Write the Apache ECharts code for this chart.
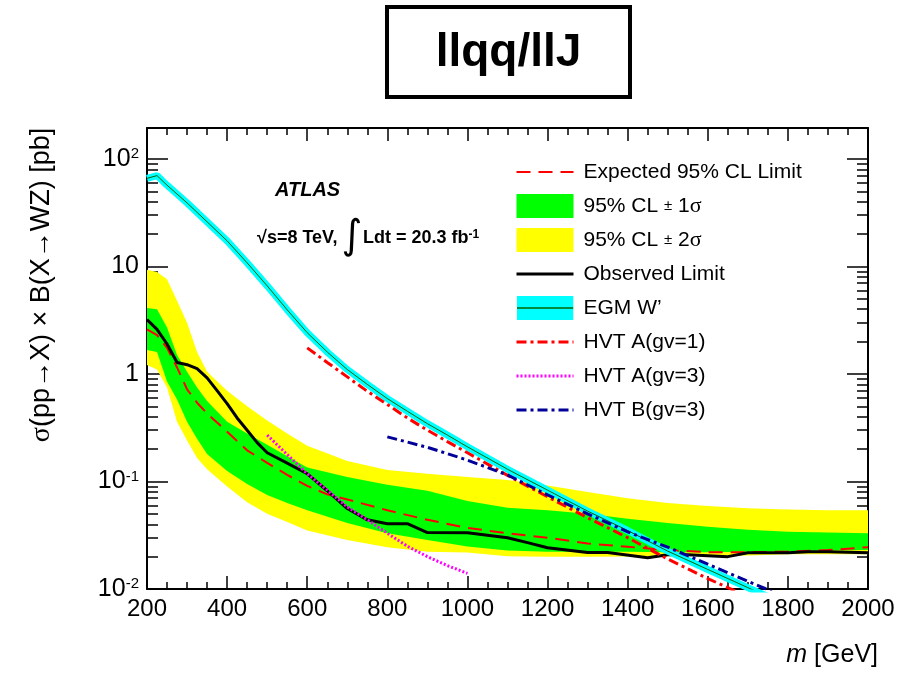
<!DOCTYPE html>
<html>
<head>
<meta charset="utf-8">
<script src="https://cdn.jsdelivr.net/npm/echarts@6/dist/echarts.min.js"></script>
<style>
  html, body { margin: 0; padding: 0; background: #fff; }
  #chart { width: 901px; height: 674px; }
</style>
</head>
<body>
<div id="chart"></div>
<script>
// ---- fonts ----
var FONT = '"Liberation Sans", Arial, Helvetica, sans-serif';

// ---- data ----
// bands: common mass grid
var bandMass  = [200, 225, 250, 275, 300, 325, 350, 400, 450, 500, 550, 600, 700, 800, 900, 1000, 1100, 1200, 1300, 1400, 1500, 1600, 1700, 1800, 1900, 2000];
var yellowUp  = [9.3, 8.9, 7.6, 4.8, 3.0, 1.6, 1.05, 0.70, 0.50, 0.37, 0.28, 0.215, 0.155, 0.128, 0.118, 0.110, 0.103, 0.092, 0.080, 0.070, 0.063, 0.059, 0.0565, 0.055, 0.054, 0.054];
var yellowLow = [1.21, 1.1, 0.75, 0.36, 0.24, 0.165, 0.13, 0.090, 0.064, 0.050, 0.042, 0.035, 0.0285, 0.0245, 0.0222, 0.0218, 0.0202, 0.0200, 0.0200, 0.0201, 0.0202, 0.0205, 0.0205, 0.0210, 0.0210, 0.0210];
var greenUp   = [4.1, 4.0, 2.7, 1.5, 1.05, 0.75, 0.56, 0.36, 0.28, 0.22, 0.172, 0.135, 0.110, 0.093, 0.082, 0.066, 0.057, 0.054, 0.050, 0.045, 0.041, 0.038, 0.0355, 0.034, 0.0335, 0.033];
var greenLow  = [1.67, 1.6, 0.85, 0.58, 0.36, 0.25, 0.18, 0.125, 0.095, 0.075, 0.063, 0.054, 0.041, 0.033, 0.0285, 0.0248, 0.0228, 0.0222, 0.0222, 0.0222, 0.0220, 0.0220, 0.0222, 0.0225, 0.0228, 0.0230];

var expMass   = [200, 225, 250, 275, 300, 325, 350, 400, 450, 500, 550, 600, 650, 700, 800, 900, 1000, 1100, 1200, 1300, 1400, 1500, 1600, 1700, 1800, 1900, 2000];
var expLimit  = [2.6, 2.3, 1.75, 1.15, 0.72, 0.54, 0.43, 0.29, 0.195, 0.149, 0.115, 0.091, 0.076, 0.068, 0.054, 0.044, 0.037, 0.033, 0.030, 0.0265, 0.0247, 0.023, 0.022, 0.022, 0.0223, 0.023, 0.0245];

var obsMass   = [200, 225, 250, 275, 300, 325, 350, 375, 400, 425, 450, 475, 500, 550, 600, 650, 700, 750, 800, 850, 900, 1000, 1100, 1150, 1200, 1300, 1350, 1450, 1500, 1550, 1650, 1700, 1800, 1850, 1900, 2000];
var obsLimit  = [3.2, 2.6, 1.9, 1.28, 1.22, 1.12, 0.92, 0.70, 0.53, 0.39, 0.30, 0.23, 0.185, 0.148, 0.118, 0.082, 0.056, 0.044, 0.0405, 0.0405, 0.0335, 0.0333, 0.030, 0.027, 0.0242, 0.0218, 0.0218, 0.0195, 0.0208, 0.0208, 0.0200, 0.0217, 0.0217, 0.0222, 0.0222, 0.0217];

var egmMass   = [200, 225, 250, 300, 350, 400, 450, 500, 550, 600, 650, 700, 750, 800, 850, 900, 950, 1000, 1100, 1200, 1300, 1400, 1500, 1600, 1700, 1750];
var egmXsec   = [66, 70, 57, 39, 26, 17.3, 10.8, 6.6, 3.95, 2.42, 1.6, 1.1, 0.80, 0.59, 0.45, 0.345, 0.27, 0.21, 0.13, 0.083, 0.053, 0.035, 0.0225, 0.0152, 0.0103, 0.0085];

var hvtA1Mass = [600, 650, 700, 750, 800, 850, 900, 950, 1000, 1100, 1200, 1300, 1400, 1500, 1600, 1700];
var hvtA1Xsec = [1.75, 1.28, 0.94, 0.69, 0.52, 0.39, 0.30, 0.235, 0.185, 0.114, 0.072, 0.046, 0.030, 0.019, 0.0125, 0.0085];

var hvtA3Mass = [500, 550, 600, 650, 700, 750, 800, 850, 900, 950, 1000];
var hvtA3Xsec = [0.27, 0.178, 0.118, 0.083, 0.058, 0.044, 0.033, 0.025, 0.020, 0.0165, 0.014];

var hvtB3Mass = [800, 900, 1000, 1100, 1200, 1300, 1400, 1500, 1600, 1700, 1760];
var hvtB3Xsec = [0.26, 0.208, 0.158, 0.115, 0.075, 0.050, 0.034, 0.0245, 0.017, 0.0118, 0.0095];

// ---- helpers ----
function pairs(xs, ys) {
  return xs.map(function (x, i) { return [x, ys[i]]; });
}

function bandSeries(name, color, upper, lower, z) {
  return {
    name: name,
    type: 'custom',
    coordinateSystem: 'cartesian2d',
    z: z,
    silent: true,
    itemStyle: { color: color },
    data: [[bandMass[0], lower[0]]],
    renderItem: function (params, api) {
      var pts = [];
      for (var i = 0; i < bandMass.length; i++) pts.push(api.coord([bandMass[i], upper[i]]));
      for (var j = bandMass.length - 1; j >= 0; j--) pts.push(api.coord([bandMass[j], lower[j]]));
      return { type: 'polygon', shape: { points: pts }, style: { fill: color } };
    }
  };
}

function lineSeries(name, xs, ys, color, width, type, z) {
  return {
    name: name,
    type: 'line',
    data: pairs(xs, ys),
    symbol: 'none',
    showSymbol: false,
    smooth: false,
    z: z,
    silent: true,
    lineStyle: { color: color, width: width, type: type },
    itemStyle: { color: color }
  };
}

function yLabel(v) {
  var e = Math.log(v) / Math.LN10;
  var r = Math.round(e);
  if (Math.abs(e - r) > 1e-6) return '';
  if (r === 0) return '{n|1}';
  if (r === 1) return '{n|10}';
  return '{n|10}{s|' + r + '}';
}

var egmIcon = 'image://data:image/svg+xml;utf8,' + encodeURIComponent(
  '<svg xmlns="http://www.w3.org/2000/svg" width="57" height="24">' +
  '<rect x="0" y="0" width="57" height="24" fill="#00ffff"/>' +
  '<line x1="0" y1="12" x2="57" y2="12" stroke="#006400" stroke-width="1.5"/></svg>');

var axisColor = '#000';

var xAxisBase = {
  type: 'value',
  min: 200,
  max: 2000,
  interval: 200,
  axisLine: { show: true, onZero: false, lineStyle: { color: axisColor, width: 2 } },
  axisTick: { show: true, inside: true, length: 13, lineStyle: { color: axisColor, width: 1.5 } },
  minorTick: { show: true, splitNumber: 4, length: 7, lineStyle: { color: axisColor, width: 1.5 } },
  splitLine: { show: false },
  minorSplitLine: { show: false }
};

var yAxisBase = {
  type: 'log',
  logBase: 10,
  min: 0.01,
  max: 194,
  axisLine: { show: true, onZero: false, lineStyle: { color: axisColor, width: 2 } },
  axisTick: { show: true, inside: true, length: 21, lineStyle: { color: axisColor, width: 1.5 } },
  minorTick: { show: true, splitNumber: 9, length: 11, lineStyle: { color: axisColor, width: 1.5 } },
  splitLine: { show: false },
  minorSplitLine: { show: false }
};

// legend entries for line series: line only, no marker
function lineLegend(name) {
  return { name: name, icon: 'inherit', itemStyle: { opacity: 0 } };
}

var chart = echarts.init(document.getElementById('chart'), null, { renderer: 'canvas' });

chart.setOption({
  animation: false,
  backgroundColor: '#fff',
  grid: { left: 147, right: 33, top: 128, bottom: 85, containLabel: false },

  xAxis: [
    Object.assign({}, xAxisBase, {
      position: 'bottom',
      axisLabel: {
        show: true, fontSize: 24, color: '#000', fontFamily: FONT, margin: 8,
        formatter: function (v) { return String(v); }
      }
    }),
    Object.assign({}, xAxisBase, {
      position: 'top',
      axisLabel: { show: false }
    })
  ],

  yAxis: [
    Object.assign({}, yAxisBase, {
      position: 'left',
      axisLabel: {
        show: true,
        margin: 8,
        formatter: yLabel,
        rich: {
          n: { fontSize: 25, color: '#000', fontFamily: FONT },
          s: { fontSize: 15, color: '#000', fontFamily: FONT, verticalAlign: 'top' }
        }
      }
    }),
    Object.assign({}, yAxisBase, {
      position: 'right',
      axisLabel: { show: false }
    })
  ],

  legend: {
    orient: 'vertical',
    left: 515,
    top: 160,
    padding: 0,
    itemWidth: 57,
    itemHeight: 24,
    itemGap: 10,
    selectedMode: false,
    lineStyle: { width: 'inherit' },
    textStyle: {
      fontSize: 21,
      fontFamily: FONT,
      color: '#000',
      lineHeight: 24,
      padding: [0, 0, 0, 5],
      rich: {
        pm: { fontSize: 15, fontFamily: FONT, color: '#000' },
        sg: { fontSize: 22, fontFamily: '"Liberation Serif", "DejaVu Serif", serif', color: '#000' }
      }
    },
    formatter: function (name) {
      return name.replace('±', '{pm|±}').replace('σ', '{sg|σ}');
    },
    data: [
      lineLegend('Expected 95% CL Limit'),
      { name: '95% CL ± 1σ', icon: 'rect' },
      { name: '95% CL ± 2σ', icon: 'rect' },
      lineLegend('Observed Limit'),
      { name: 'EGM W’', icon: egmIcon },
      lineLegend('HVT A(gv=1)'),
      lineLegend('HVT A(gv=3)'),
      lineLegend('HVT B(gv=3)')
    ]
  },

  series: [
    bandSeries('95% CL ± 2σ', '#ffff00', yellowUp, yellowLow, 1),
    bandSeries('95% CL ± 1σ', '#00ff00', greenUp, greenLow, 2),
    lineSeries('Expected 95% CL Limit', expMass, expLimit, '#ff0000', 2, [14, 8], 5),
    lineSeries('Observed Limit', obsMass, obsLimit, '#000000', 3, 'solid', 6),
    lineSeries('EGM W’', egmMass, egmXsec, '#00ffff', 7, 'solid', 7),
    lineSeries('EGM core', egmMass, egmXsec, '#006400', 1, 'solid', 8),
    lineSeries('HVT A(gv=1)', hvtA1Mass, hvtA1Xsec, '#ff0000', 3, [10, 4, 3, 4], 9),
    lineSeries('HVT A(gv=3)', hvtA3Mass, hvtA3Xsec, '#ff00ff', 3, [2, 2], 9),
    lineSeries('HVT B(gv=3)', hvtB3Mass, hvtB3Xsec, '#000099', 3, [10, 4, 3, 4], 9)
  ],

  graphic: [
    // title box
    {
      type: 'rect',
      shape: { x: 387, y: 7, width: 243, height: 90 },
      style: { fill: '#fff', stroke: '#000', lineWidth: 4 },
      z: 10
    },
    {
      type: 'text',
      x: 508.5, y: 53,
      style: { text: 'llqq/llJ', font: 'bold 46px ' + FONT, fill: '#000', align: 'center', verticalAlign: 'middle' },
      z: 11
    },
    // ATLAS label
    {
      type: 'text',
      x: 275, y: 190,
      style: { text: 'ATLAS', font: 'italic bold 20px ' + FONT, fill: '#000', align: 'left', verticalAlign: 'middle' },
      z: 11
    },
    {
      type: 'text',
      x: 257, y: 238,
      style: { text: '√s=8 TeV,', font: 'bold 18px ' + FONT, fill: '#000', align: 'left', verticalAlign: 'middle' },
      z: 11
    },
    {
      type: 'text',
      x: 352, y: 238,
      style: { text: '∫', font: '40px "DejaVu Sans", sans-serif', fill: '#000', align: 'center', verticalAlign: 'middle' },
      z: 11
    },
    {
      type: 'text',
      x: 363, y: 238,
      style: {
        text: '{b|Ldt = 20.3 fb}{s|-1}',
        fill: '#000', align: 'left', verticalAlign: 'middle',
        rich: {
          b: { font: 'bold 18px ' + FONT, fill: '#000' },
          s: { font: 'bold 12px ' + FONT, fill: '#000', verticalAlign: 'top' }
        }
      },
      z: 11
    },
    // y axis title
    {
      type: 'text',
      x: 42, y: 285,
      rotation: Math.PI / 2,
      style: {
        text: '{g|σ}(pp→X) × B(X→WZ) [pb]',
        font: '27px ' + FONT, fill: '#000', align: 'center', verticalAlign: 'middle',
        rich: {
          g: { font: '28px "Liberation Serif", "DejaVu Serif", serif', fill: '#000' }
        }
      },
      z: 11
    },
    // x axis title
    {
      type: 'text',
      x: 878, y: 655,
      style: {
        text: '{i|m} [GeV]',
        font: '25px ' + FONT, fill: '#000', align: 'right', verticalAlign: 'middle',
        rich: {
          i: { font: 'italic 25px ' + FONT, fill: '#000' }
        }
      },
      z: 11
    }
  ]
});
</script>
</body>
</html>
